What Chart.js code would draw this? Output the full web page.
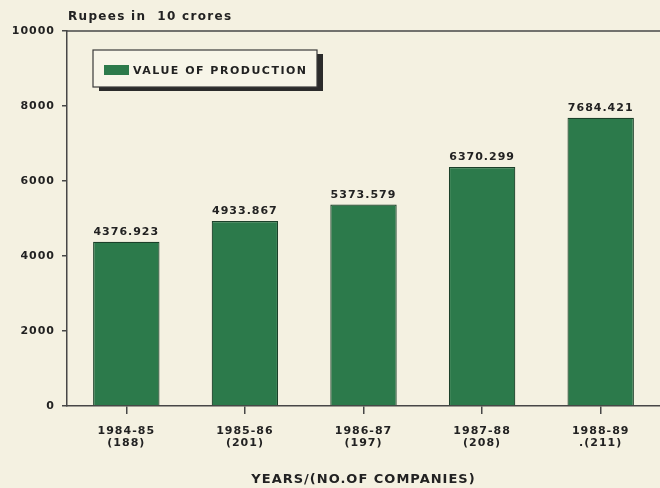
<!DOCTYPE html>
<html>
<head>
<meta charset="utf-8">
<script src="https://cdn.jsdelivr.net/npm/chart.js@4.4.1/dist/chart.umd.min.js"></script>
<style>
  html, body { margin: 0; padding: 0; background: #f4f1e1; }
  #wrap { position: relative; width: 660px; height: 488px; }
</style>
</head>
<body>
<div id="wrap"><canvas id="prodChart"></canvas></div>
<script>
const years = [["1984-85", "(188)"], ["1985-86", "(201)"], ["1986-87", "(197)"], ["1987-88", "(208)"], ["1988-89", ".(211)"]];
const production = [4376.923, 4933.867, 5373.579, 6370.299, 7684.421];
const yTicks = [0, 2000, 4000, 6000, 8000, 10000];

const ink = "#222222";
const lineCol = "#474747";
const barGreen = "#2c7a4b";

// paper background + wider letter spacing for the whole draw
const paper = {
    id: "paper",
    beforeDraw(chart) {
        const ctx = chart.ctx;
        ctx.save();
        ctx.fillStyle = "#f4f1e1";
        ctx.fillRect(0, 0, chart.width, chart.height);
        ctx.restore();
        ctx.letterSpacing = "1px";
    }
};

// top frame line, unit caption, legend box, value labels
const extras = {
    id: "extras",
    afterDraw(chart) {
        const ctx = chart.ctx;
        const area = chart.chartArea;
        ctx.save();

        ctx.strokeStyle = lineCol;
        ctx.lineWidth = 1.5;
        ctx.beginPath();
        ctx.moveTo(area.left, area.top);
        ctx.lineTo(chart.width, area.top);
        ctx.stroke();

        ctx.fillStyle = ink;
        ctx.letterSpacing = "1.3px";
        ctx.font = "bold 12px 'DejaVu Sans'";
        ctx.textAlign = "left";
        ctx.textBaseline = "middle";
        ctx.fillText("Rupees in  10 crores", 68, 17);

        // legend with drop shadow
        const lx = 93, ly = 50, lw = 224, lh = 37;
        ctx.fillStyle = "#2b2b2b";
        ctx.fillRect(lx + 6, ly + 4, lw, lh);
        ctx.fillStyle = "#f7f5e8";
        ctx.fillRect(lx, ly, lw, lh);
        ctx.strokeStyle = "#3a3a3a";
        ctx.lineWidth = 1.2;
        ctx.strokeRect(lx, ly, lw, lh);
        ctx.fillStyle = barGreen;
        ctx.fillRect(104, 65, 25, 10);
        ctx.fillStyle = ink;
        ctx.letterSpacing = "1.5px";
        ctx.font = "bold 11px 'DejaVu Sans'";
        ctx.fillText(chart.data.datasets[0].label, 133, 71);

        // values above bars
        ctx.letterSpacing = "1px";
        ctx.textAlign = "center";
        ctx.textBaseline = "bottom";
        const meta = chart.getDatasetMeta(0);
        meta.data.forEach((bar, i) => {
            ctx.fillText(production[i].toFixed(3), bar.x, bar.y - 4);
        });
        ctx.restore();
    }
};

Chart.defaults.font.family = "'DejaVu Sans'";
Chart.defaults.font.weight = "bold";
Chart.defaults.color = ink;

new Chart(document.getElementById("prodChart"), {
    type: "bar",
    data: {
        labels: years,
        datasets: [{
            label: "VALUE OF PRODUCTION",
            data: production,
            backgroundColor: barGreen,
            borderColor: "#1b4029",
            borderWidth: 1.2,
            barPercentage: 0.56,
            categoryPercentage: 1
        }]
    },
    options: {
        responsive: true,
        maintainAspectRatio: false,
        animation: false,
        layout: { padding: { top: 31, left: 0, right: -3, bottom: 0 } },
        plugins: {
            legend: { display: false },
            tooltip: { enabled: false }
        },
        scales: {
            x: {
                grid: {
                    offset: false,
                    drawOnChartArea: false,
                    tickLength: 8,
                    color: lineCol,
                    lineWidth: 1.5
                },
                border: { color: lineCol, width: 1.5 },
                ticks: {
                    font: { size: 11, weight: "bold", lineHeight: 1.1 },
                    padding: 11,
                    maxRotation: 0
                },
                title: {
                    display: true,
                    text: "YEARS/(NO.OF COMPANIES)",
                    font: { size: 13, weight: "bold" },
                    padding: { top: 0, bottom: 1 }
                },
                afterFit(scale) { scale.height = 82; }
            },
            y: {
                min: 0,
                max: 10000,
                afterBuildTicks(scale) { scale.ticks = yTicks.map(v => ({ value: v })); },
                grid: {
                    drawOnChartArea: false,
                    tickLength: 5,
                    color: lineCol,
                    lineWidth: 1.5
                },
                border: { color: lineCol, width: 1.5 },
                ticks: {
                    font: { size: 11, weight: "bold" },
                    padding: 7,
                    callback: v => String(v)
                },
                afterFit(scale) { scale.width = 67; }
            }
        }
    },
    plugins: [paper, extras]
});
</script>
</body>
</html>
